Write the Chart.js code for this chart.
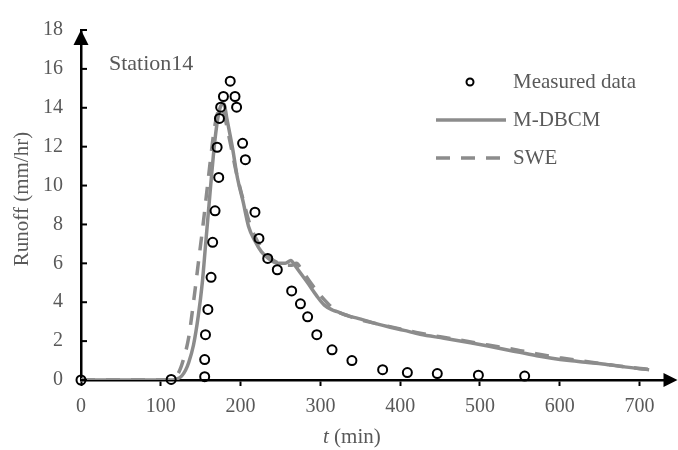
<!DOCTYPE html>
<html lang="en">
<head>
<meta charset="UTF-8" />
<title>Station14 runoff</title>
<script src="https://cdn.jsdelivr.net/npm/chart.js"></script>
<style>
  html, body { margin: 0; padding: 0; background: #fff; }
  #wrap { width: 678px; height: 450px; }
</style>
</head>
<body>
<div id="wrap"><canvas id="runoffChart" width="678" height="450"></canvas></div>
<script>
// measured hydrograph, time in minutes, runoff in mm/hr
const measuredT = [0, 113, 155, 155, 156, 159, 163, 165, 168, 170.6, 172.6, 173.5, 175, 178.5, 187, 193, 195, 202.5, 206, 218, 223, 234, 246, 264, 275, 284, 295.5, 314.6, 339.5, 378, 409, 446.5, 498, 556];
const measuredQ = [0, 0.03, 0.17, 1.05, 2.33, 3.63, 5.28, 7.08, 8.7, 11.97, 10.42, 13.45, 14.03, 14.58, 15.37, 14.58, 14.03, 12.17, 11.33, 8.63, 7.28, 6.25, 5.67, 4.58, 3.92, 3.25, 2.33, 1.55, 1.0, 0.53, 0.38, 0.33, 0.25, 0.2];

// M-DBCM simulation
const mdbcmT = [0, 115, 120, 126, 131, 135, 141, 147, 152, 156, 160, 164, 168, 172, 176, 179, 183, 190, 196, 203, 210, 218, 226, 235, 247, 256, 263, 268, 275, 284, 295, 305, 315, 322, 335, 347, 365, 384, 405, 425, 455, 488, 510, 530, 550, 571, 590, 612, 635, 654, 680, 700, 712];
const mdbcmQ = [0, 0, 0.05, 0.2, 0.5, 0.9, 1.8, 3.3, 5.0, 6.9, 8.8, 10.7, 12.4, 13.6, 14.15, 14.2, 13.4, 11.9, 10.4, 9.2, 7.9, 7.15, 6.6, 6.25, 6.0, 6.0, 6.15, 5.9, 5.5, 5.0, 4.35, 3.85, 3.6, 3.5, 3.3, 3.17, 2.95, 2.75, 2.55, 2.35, 2.15, 1.92, 1.75, 1.58, 1.42, 1.25, 1.12, 1.0, 0.9, 0.82, 0.68, 0.58, 0.53];

// SWE simulation
const sweT = [0, 110, 116, 122, 128, 135, 141, 147, 153, 158, 163, 167, 171, 175, 178, 182, 188, 195, 203, 211, 219, 228, 238, 248, 258, 264, 270, 276, 286, 297, 309, 320, 335, 350, 370, 390, 420, 450, 480, 510, 540, 570, 600, 630, 660, 690, 712];
const sweQ = [0, 0, 0.1, 0.35, 1.0, 2.2, 4.0, 6.0, 8.0, 9.8, 11.6, 12.9, 13.7, 14.0, 13.9, 13.2, 12.0, 10.6, 9.3, 8.1, 7.3, 6.7, 6.25, 6.0, 5.9, 5.9, 6.0, 5.7, 5.1, 4.5, 3.95, 3.55, 3.3, 3.1, 2.9, 2.72, 2.45, 2.22, 2.02, 1.8, 1.6, 1.35, 1.15, 0.97, 0.8, 0.64, 0.55];

const xTicks = [0, 100, 200, 300, 400, 500, 600, 700];
const yTicks = [0, 2, 4, 6, 8, 10, 12, 14, 16, 18];

const SERIF = '"Liberation Serif", "Times New Roman", serif';
const TEXT = '#595959';
const LINE = '#8c8c8c';

const toPoints = (t, q) => t.map((v, i) => ({ x: v, y: q[i] }));

// axis arrows, inward y ticks, labels and legend
const decorations = {
  id: 'decorations',
  afterDraw(chart) {
    const { ctx, chartArea, scales: { x, y } } = chart;
    ctx.save();

    ctx.strokeStyle = '#000';
    ctx.lineWidth = 2;
    y.ticks.forEach(t => {
      const py = y.getPixelForValue(t.value);
      ctx.beginPath();
      ctx.moveTo(chartArea.left, py);
      ctx.lineTo(chartArea.left + 6, py);
      ctx.stroke();
    });

    ctx.fillStyle = '#000';
    const ax = x.getPixelForValue(0);
    const top = y.getPixelForValue(18);
    ctx.beginPath();
    ctx.moveTo(ax, top);
    ctx.lineTo(ax - 7.5, top + 15);
    ctx.lineTo(ax + 7.5, top + 15);
    ctx.closePath();
    ctx.fill();

    const ay = y.getPixelForValue(0);
    ctx.beginPath();
    ctx.moveTo(chartArea.right - 8, ay - 7);
    ctx.lineTo(chartArea.right + 6, ay);
    ctx.lineTo(chartArea.right - 8, ay + 7);
    ctx.closePath();
    ctx.fill();

    ctx.fillStyle = TEXT;
    ctx.textBaseline = 'middle';
    ctx.textAlign = 'left';
    ctx.font = '22px ' + SERIF;
    ctx.fillText('Station14', 109, 64);

    ctx.font = 'italic 21px ' + SERIF;
    ctx.fillText('t', 323, 437);
    const tw = ctx.measureText('t').width;
    ctx.font = '21px ' + SERIF;
    ctx.fillText(' (min)', 323 + tw, 437);

    ctx.save();
    ctx.translate(22, 199);
    ctx.rotate(-Math.PI / 2);
    ctx.textAlign = 'center';
    ctx.fillText('Runoff (mm/hr)', 0, 0);
    ctx.restore();

    // legend
    const rows = [82, 120, 158];
    chart.data.datasets.forEach((ds, i) => {
      const ry = rows[i];
      ctx.strokeStyle = ds.borderColor;
      ctx.lineWidth = ds.borderWidth;
      if (ds.showLine === false) {
        ctx.beginPath();
        ctx.arc(470, ry, 3.5, 0, Math.PI * 2);
        ctx.stroke();
      } else {
        ctx.setLineDash(ds.borderDash || []);
        ctx.beginPath();
        ctx.moveTo(436, ry);
        ctx.lineTo(506, ry);
        ctx.stroke();
        ctx.setLineDash([]);
      }
      ctx.fillStyle = TEXT;
      ctx.font = '21px ' + SERIF;
      ctx.textAlign = 'left';
      ctx.fillText(ds.label, 513, ry);
    });

    ctx.restore();
  }
};

new Chart(document.getElementById('runoffChart'), {
  type: 'scatter',
  data: {
    datasets: [
      {
        label: 'Measured data',
        data: toPoints(measuredT, measuredQ),
        showLine: false,
        pointStyle: 'circle',
        pointRadius: 4.5,
        borderWidth: 2,
        borderColor: '#000',
        backgroundColor: 'rgba(0,0,0,0)',
        clip: false,
        order: 0
      },
      {
        label: 'M-DBCM',
        data: toPoints(mdbcmT, mdbcmQ),
        showLine: true,
        pointRadius: 0,
        borderColor: LINE,
        borderWidth: 3.5,
        cubicInterpolationMode: 'monotone',
        order: 1
      },
      {
        label: 'SWE',
        data: toPoints(sweT, sweQ),
        showLine: true,
        pointRadius: 0,
        borderColor: LINE,
        borderWidth: 3.5,
        borderDash: [14, 11],
        cubicInterpolationMode: 'monotone',
        order: 2
      }
    ]
  },
  options: {
    responsive: false,
    animation: false,
    devicePixelRatio: 1,
    layout: { padding: { left: 0, right: 0, top: 20, bottom: 0 } },
    plugins: { legend: { display: false }, tooltip: { enabled: false } },
    scales: {
      x: {
        type: 'linear',
        min: 0,
        max: 740,
        afterBuildTicks: s => { s.ticks = xTicks.map(v => ({ value: v })); },
        afterFit: s => { s.height = 70; },
        grid: { display: true, drawOnChartArea: false, drawTicks: true, tickLength: 6, tickWidth: 2, tickColor: '#000' },
        border: { display: true, color: '#000', width: 2.5 },
        ticks: { font: { family: SERIF, size: 20 }, color: TEXT, padding: 9, maxRotation: 0, autoSkip: false }
      },
      y: {
        min: 0,
        max: 18,
        afterBuildTicks: s => { s.ticks = yTicks.map(v => ({ value: v })); },
        afterFit: s => { s.width = 81; },
        grid: { display: false, drawTicks: false, tickLength: 0 },
        border: { display: true, color: '#000', width: 2.5 },
        ticks: { font: { family: SERIF, size: 20 }, color: TEXT, padding: 18 }
      }
    }
  },
  plugins: [decorations]
});
</script>
</body>
</html>
